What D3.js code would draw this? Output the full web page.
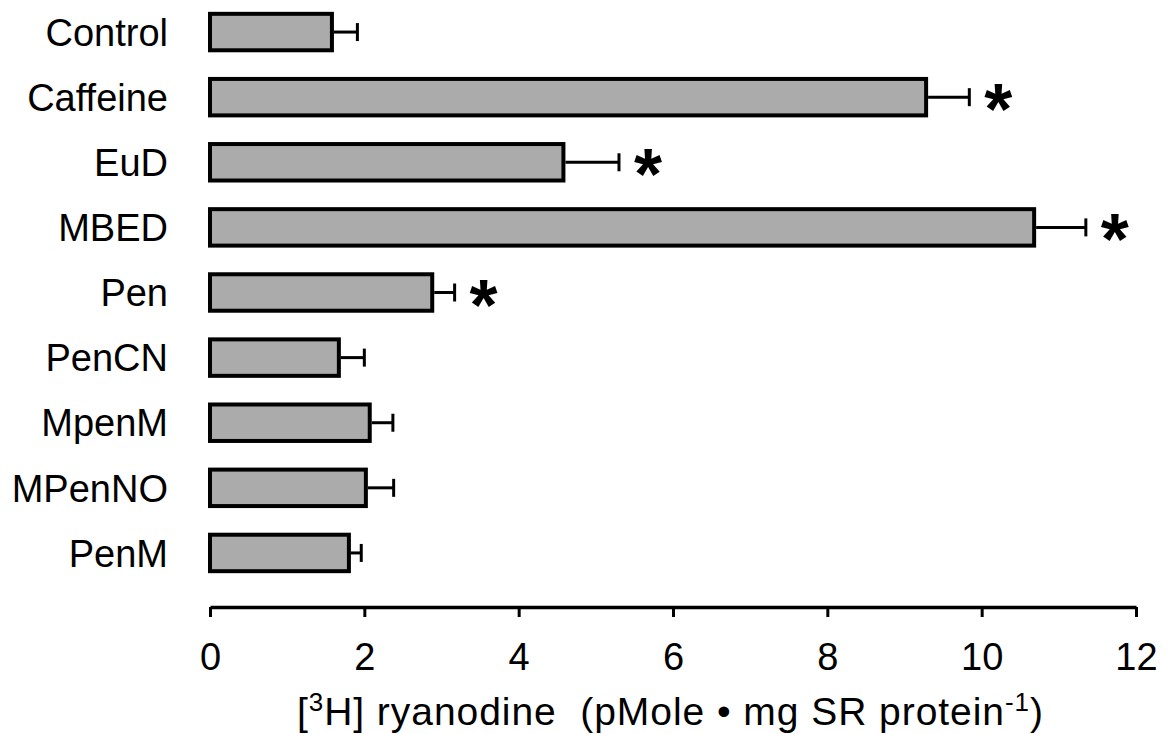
<!DOCTYPE html>
<html>
<head>
<meta charset="utf-8">
<script src="https://cdn.jsdelivr.net/npm/d3@7"></script>
<style>
  html, body { margin: 0; padding: 0; background: #fff; }
  svg { display: block; }
  text { font-family: "Liberation Sans", Arial, sans-serif; fill: #000; }
</style>
</head>
<body>
<svg id="chart" width="1170" height="734"></svg>
<script>
// ---- data ----
const categories = ["Control", "Caffeine", "EuD", "MBED", "Pen", "PenCN", "MpenM", "MPenNO", "PenM"];
const values     = [1.58, 9.28, 4.58, 10.68, 2.88, 1.67, 2.07, 2.02, 1.80];
const errors     = [0.33, 0.56, 0.72, 0.67, 0.29, 0.33, 0.30, 0.36, 0.16];
const significant = [false, true, true, true, true, false, false, false, false];
const xTicks     = [0, 2, 4, 6, 8, 10, 12];

const svg = d3.select("#chart");

const x = d3.scaleLinear().domain([0, 12]).range([210, 1136]);
const y = d3.scaleBand().domain(categories).range([-0.5, 585.5])
  .paddingInner(0.44).paddingOuter(0.22);

const rows = categories.map((c, i) => ({ c, v: values[i], e: errors[i], s: significant[i] }));

// bars
svg.append("g").selectAll("rect").data(rows).join("rect")
  .attr("x", x(0))
  .attr("y", d => y(d.c))
  .attr("width", d => x(d.v) - x(0))
  .attr("height", y.bandwidth())
  .attr("fill", "#ababab")
  .attr("stroke", "#000")
  .attr("stroke-width", 4);

// error bars
const eg = svg.append("g").attr("stroke", "#000").attr("stroke-width", 3);
eg.selectAll("line.whisk").data(rows).join("line").attr("class", "whisk")
  .attr("x1", d => x(d.v) + 2)
  .attr("x2", d => x(d.v + d.e))
  .attr("y1", d => y(d.c) + y.bandwidth() / 2)
  .attr("y2", d => y(d.c) + y.bandwidth() / 2);
eg.selectAll("line.cap").data(rows).join("line").attr("class", "cap")
  .attr("x1", d => x(d.v + d.e))
  .attr("x2", d => x(d.v + d.e))
  .attr("y1", d => y(d.c) + y.bandwidth() / 2 - 9)
  .attr("y2", d => y(d.c) + y.bandwidth() / 2 + 9);

// significance stars
svg.append("g").selectAll("text").data(rows.filter(d => d.s)).join("text")
  .attr("x", d => x(d.v + d.e) + 29)
  .attr("y", d => y(d.c) + y.bandwidth() / 2 + 37)
  .attr("text-anchor", "middle")
  .attr("font-size", 72)
  .attr("font-weight", "bold")
  .text("*");

// category labels
svg.append("g").selectAll("text").data(categories).join("text")
  .attr("x", 168)
  .attr("y", d => y(d) + y.bandwidth() / 2)
  .attr("dy", "0.36em")
  .attr("text-anchor", "end")
  .attr("font-size", 38)
  .text(d => d);

// x axis
const axis = d3.axisBottom(x).tickValues(xTicks).tickFormat(d3.format("d"))
  .tickSize(10).tickSizeOuter(0).tickPadding(26);
const ag = svg.append("g").attr("transform", "translate(0,607)").call(axis);
ag.select(".domain").attr("stroke", "#000").attr("stroke-width", 3.5);
ag.selectAll(".tick line").attr("stroke", "#000").attr("stroke-width", 3);
ag.selectAll(".tick text")
  .style("font-family", "'Liberation Sans', Arial, sans-serif")
  .attr("font-size", 38).attr("fill", "#000");

// axis title
const title = svg.append("text")
  .attr("x", 297)
  .attr("y", 725)
  .attr("text-anchor", "start")
  .attr("font-size", 39)
  .attr("textLength", 746)
  .attr("lengthAdjust", "spacing");
title.append("tspan").text("[");
title.append("tspan").attr("font-size", 26).attr("dy", -14).text("3");
title.append("tspan").attr("dy", 14).text("H] ryanodine \u00A0(pMole \u2022 mg SR protein");
title.append("tspan").attr("font-size", 26).attr("dy", -14).text("-1");
title.append("tspan").attr("dy", 14).text(")");
</script>
</body>
</html>
